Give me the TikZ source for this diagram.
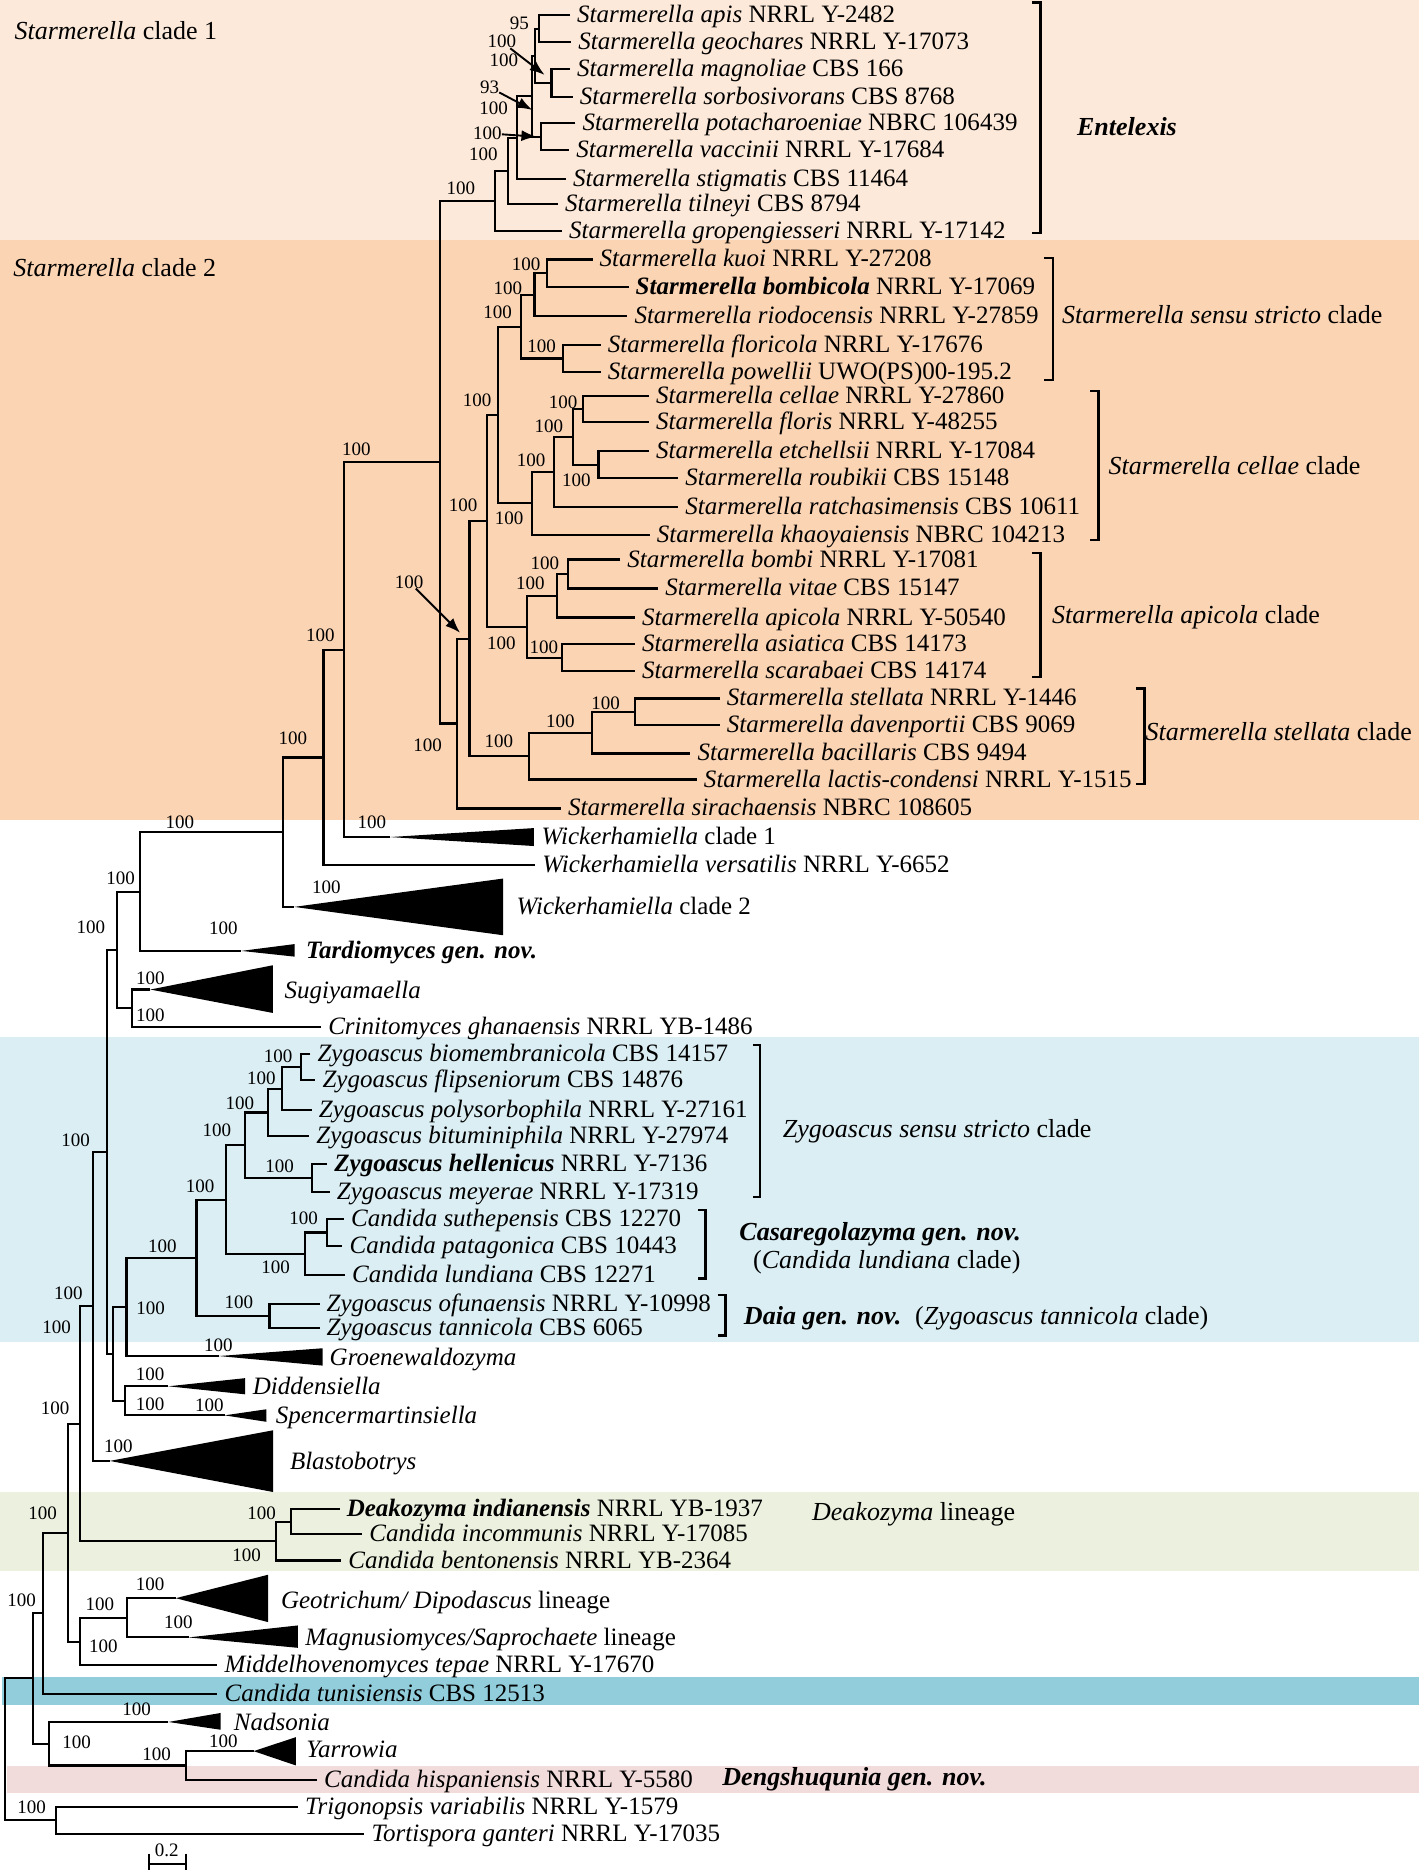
\documentclass[tikz,border=0pt]{standalone}
\usepackage{fontspec}
\setmainfont{Liberation Serif}
\usetikzlibrary{arrows.meta}
\definecolor{cladeone}{HTML}{FDE9D9}
\definecolor{cladetwo}{HTML}{FBD4B4}
\definecolor{zygoblue}{HTML}{DBEEF3}
\definecolor{deakogreen}{HTML}{EBF1DE}
\definecolor{tunisblue}{HTML}{92CDDC}
\definecolor{dengpink}{HTML}{F2DBDB}
\begin{document}
\begin{tikzpicture}[x=1.1955pt,y=-1.1955pt,
  branch/.style={line width=2.1pt},
  taxon/.style={anchor=west,inner xsep=7pt,inner ysep=0pt,text height=15pt,text depth=0pt,font=\fontsize{25}{30}\selectfont},
  boot/.style={inner sep=0pt,font=\fontsize{19}{22}\selectfont},
  cladetext/.style={anchor=west,inner sep=0pt,text height=17pt,text depth=0pt,font=\fontsize{26}{31}\selectfont},
  clademark/.style={line width=2.4pt},
  pointer/.style={-{Latex[length=15pt,width=11pt]},line width=1.9pt}]
\useasboundingbox (0,0) rectangle (1187,1568);
\fill[cladeone] (0,0) rectangle (1187,201);
\fill[cladetwo] (0,201) rectangle (1187,686);
\fill[zygoblue] (0,867) rectangle (1187,1122);
\fill[deakogreen] (0,1248) rectangle (1187,1314);
\fill[tunisblue] (2,1402.5) rectangle (1187,1425.5);
\fill[dengpink] (5.5,1477) rectangle (1187,1499);
\node[cladetext] (clone) at (12,26) {\textit{Starmerella} clade 1};
\node[cladetext] (cltwo) at (11,224) {\textit{Starmerella} clade 2};

\node[taxon] (apis) at (476.7,12.8) {\textit{Starmerella apis} NRRL Y-2482};
\node[taxon] (geoch) at (477.7,35) {\textit{Starmerella geochares} NRRL Y-17073};
\node[taxon] (magnol) at (476.7,58) {\textit{Starmerella magnoliae} CBS 166};
\node[taxon] (sorbos) at (479,81) {\textit{Starmerella sorbosivorans} CBS 8768};
\node[taxon] (potach) at (481.1,103) {\textit{Starmerella potacharoeniae} NBRC 106439};
\node[taxon] (vaccin) at (476,125.5) {\textit{Starmerella vaccinii} NRRL Y-17684};
\node[taxon] (stigma) at (473.3,149.7) {\textit{Starmerella stigmatis} CBS 11464};
\node[taxon] (tilney) at (466.5,170.5) {\textit{Starmerella tilneyi} CBS 8794};
\node[taxon] (gropen) at (469.9,193) {\textit{Starmerella gropengiesseri} NRRL Y-17142};
\node[taxon] (kuoi) at (495.5,217) {\textit{Starmerella kuoi} NRRL Y-27208};
\node[taxon] (bombic) at (525.6,240) {\textbf{\textit{Starmerella bombicola}} NRRL Y-17069};
\node[taxon] (riodoc) at (524.6,264.5) {\textit{Starmerella riodocensis} NRRL Y-27859};
\node[taxon] (floric) at (502.4,288.3) {\textit{Starmerella floricola} NRRL Y-17676};
\node[taxon] (powell) at (502.4,311.3) {\textit{Starmerella powellii} UWO(PS)00-195.2};
\node[taxon] (cellae) at (542.6,331.2) {\textit{Starmerella cellae} NRRL Y-27860};
\node[taxon] (floris) at (542.6,352.7) {\textit{Starmerella floris} NRRL Y-48255};
\node[taxon] (etchel) at (542.6,377) {\textit{Starmerella etchellsii} NRRL Y-17084};
\node[taxon] (roubik) at (567.2,400) {\textit{Starmerella roubikii} CBS 15148};
\node[taxon] (ratcha) at (567.2,423.8) {\textit{Starmerella ratchasimensis} CBS 10611};
\node[taxon] (khaoya) at (543.3,447.5) {\textit{Starmerella khaoyaiensis} NBRC 104213};
\node[taxon] (bombi) at (518.7,467.9) {\textit{Starmerella bombi} NRRL Y-17081};
\node[taxon] (vitae) at (550.3,492.1) {\textit{Starmerella vitae} CBS 15147};
\node[taxon] (apicol) at (530.9,516.4) {\textit{Starmerella apicola} NRRL Y-50540};
\node[taxon] (asiat) at (530.9,538.7) {\textit{Starmerella asiatica} CBS 14173};
\node[taxon] (scarab) at (530.9,561) {\textit{Starmerella scarabaei} CBS 14174};
\node[taxon] (stell) at (601.8,584.1) {\textit{Starmerella stellata} NRRL Y-1446};
\node[taxon] (davenp) at (601.8,606.4) {\textit{Starmerella davenportii} CBS 9069};
\node[taxon] (bacill) at (577.4,630.1) {\textit{Starmerella bacillaris} CBS 9494};
\node[taxon] (lactis) at (582.7,651.9) {\textit{Starmerella lactis-condensi} NRRL Y-1515};
\node[taxon] (sirach) at (469.1,676.1) {\textit{Starmerella sirachaensis} NBRC 108605};
\node[taxon] (wickA) at (447,700) {\textit{Wickerhamiella} clade 1};
\node[taxon] (versat) at (447.6,723.6) {\textit{Wickerhamiella versatilis} NRRL Y-6652};
\node[taxon] (wickB) at (426,758.4) {\textit{Wickerhamiella} clade 2};
\node[taxon] (tardio) at (250,795.5) {\textbf{\textit{Tardiomyces gen. nov.}}};
\node[taxon] (sugiya) at (232,828.5) {\textit{Sugiyamaella}};
\node[taxon] (crinit) at (268.5,858.8) {\textit{Crinitomyces ghanaensis} NRRL YB-1486};
\node[taxon] (zbiom) at (259.5,881.1) {\textit{Zygoascus biomembranicola} CBS 14157};
\node[taxon] (zflip) at (263.7,903.4) {\textit{Zygoascus flipseniorum} CBS 14876};
\node[taxon] (zpoly) at (260.7,928.5) {\textit{Zygoascus polysorbophila} NRRL Y-27161};
\node[taxon] (zbitum) at (258.6,950.2) {\textit{Zygoascus bituminiphila} NRRL Y-27974};
\node[taxon] (zhell) at (273.6,973.7) {\textbf{\textit{Zygoascus hellenicus}} NRRL Y-7136};
\node[taxon] (zmeyer) at (275.7,996.8) {\textit{Zygoascus meyerae} NRRL Y-17319};
\node[taxon] (csuth) at (287.6,1019.1) {\textit{Candida suthepensis} CBS 12270};
\node[taxon] (cpatag) at (286.4,1042.2) {\textit{Candida patagonica} CBS 10443};
\node[taxon] (clund) at (288.5,1066.5) {\textit{Candida lundiana} CBS 12271};
\node[taxon] (zofun) at (267.2,1090.8) {\textit{Zygoascus ofunaensis} NRRL Y-10998};
\node[taxon] (ztann) at (267.2,1110.3) {\textit{Zygoascus tannicola} CBS 6065};
\node[taxon] (groen) at (269.7,1136) {\textit{Groenewaldozyma}};
\node[taxon] (didd) at (205.5,1160) {\textit{Diddensiella}};
\node[taxon] (spenc) at (224.6,1184) {\textit{Spencermartinsiella}};
\node[taxon] (blasto) at (236.5,1223) {\textit{Blastobotrys}};
\node[taxon] (deako) at (284,1262) {\textbf{\textit{Deakozyma indianensis}} NRRL YB-1937};
\node[taxon] (cincom) at (302.9,1283) {\textit{Candida incommunis} NRRL Y-17085};
\node[taxon] (cbent) at (285.4,1305) {\textit{Candida bentonensis} NRRL YB-2364};
\node[taxon] (geotr) at (229,1338.5) {\textit{Geotrichum/ Dipodascus} lineage};
\node[taxon] (magnus) at (249.3,1369.6) {\textit{Magnusiomyces/Saprochaete} lineage};
\node[taxon] (middel) at (181.8,1392.7) {\textit{Middelhovenomyces tepae} NRRL Y-17670};
\node[taxon] (ctunis) at (181.8,1416.4) {\textit{Candida tunisiensis} CBS 12513};
\node[taxon] (nadson) at (189.6,1441) {\textit{Nadsonia}};
\node[taxon] (yarrow) at (250.2,1463.5) {\textit{Yarrowia}};
\node[taxon] (chisp) at (265,1488.4) {\textit{Candida hispaniensis} NRRL Y-5580};
\node[taxon] (trigon) at (249.2,1511.2) {\textit{Trigonopsis variabilis} NRRL Y-1579};
\node[taxon] (tortis) at (304.7,1533.5) {\textit{Tortispora ganteri} NRRL Y-17035};

\coordinate (nA) at (450.4,23.9);
\coordinate (nB) at (461.2,69.5);
\coordinate (nC) at (447.5,46.7);
\coordinate (nD) at (452.7,114.2);
\coordinate (nE) at (445,80.5);
\coordinate (nF) at (432.2,115.1);
\coordinate (nG) at (424.7,142.8);
\coordinate (nH) at (413.8,167.9);
\coordinate (nKb) at (457.8,228.5);
\coordinate (nKbr) at (447,246.5);
\coordinate (nFp) at (470.9,299.8);
\coordinate (nSs) at (436,273.2);
\coordinate (nCf) at (487.2,342);
\coordinate (nEr) at (500.5,388.5);
\coordinate (nCfer) at (479.3,365.2);
\coordinate (nCferr) at (463.3,394.5);
\coordinate (nCel) at (445.2,421);
\coordinate (nX) at (416.2,347.1);
\coordinate (nBv) at (475.1,480);
\coordinate (nBva) at (465.9,498.2);
\coordinate (nAs) at (470,549.9);
\coordinate (nApi) at (440.7,524);
\coordinate (nP) at (407,435.6);
\coordinate (nSd) at (530.7,595.3);
\coordinate (nSdb) at (495,612.7);
\coordinate (nStel) at (442.7,632.3);
\coordinate (nQ) at (392.6,534);
\coordinate (nR) at (381.9,605);
\coordinate (nS) at (367.6,386.5);
\coordinate (nT) at (287.8,543.3);
\coordinate (nU) at (270.5,633.5);
\coordinate (nV) at (236.5,696);
\coordinate (nW) at (117.4,745.6);
\coordinate (nY) at (110.1,843.2);
\coordinate (nZ) at (98.2,794.4);
\coordinate (nZbf) at (251.8,892.3);
\coordinate (nZbfp) at (236,910.4);
\coordinate (nZig) at (224,930.3);
\coordinate (nHm) at (261.2,985.3);
\coordinate (nGG) at (204.9,957.8);
\coordinate (nSp) at (273.2,1030.7);
\coordinate (nCas) at (255.2,1048.6);
\coordinate (nFF) at (189.1,1003.2);
\coordinate (nDaia) at (225.4,1100.6);
\coordinate (nEE) at (164.3,1051.9);
\coordinate (nCC) at (105.8,1093);
\coordinate (nDD) at (104.5,1171.5);
\coordinate (nBB) at (94.8,1132.3);
\coordinate (nAA) at (89.8,963.3);
\coordinate (nHH) at (78.1,1092.5);
\coordinate (nQQ) at (243,1272.5);
\coordinate (nDeak) at (230.5,1288.8);
\coordinate (nII) at (66.9,1190.6);
\coordinate (nRR) at (105.9,1352.9);
\coordinate (nLL) at (66.9,1372.8);
\coordinate (nJJ) at (57.2,1281.7);
\coordinate (nNN) at (36.2,1349);
\coordinate (nPP) at (155.8,1476.4);
\coordinate (nOO) at (40.8,1458.2);
\coordinate (nKK) at (27.9,1403.6);
\coordinate (nTT) at (47,1522.3);
\coordinate (nRoot) at (4.2,1463);

\coordinate (wickAap) at (326,700);
\coordinate (wickBap) at (246,758.4);
\coordinate (tardap) at (201.8,795.2);
\coordinate (sugap) at (125.7,827.5);
\coordinate (groeap) at (183,1134);
\coordinate (diddap) at (140.8,1159.3);
\coordinate (spenap) at (187.8,1183.6);
\coordinate (blasap) at (91.8,1221.7);
\coordinate (geoap) at (147,1336.5);
\coordinate (magap) at (157.7,1369.3);
\coordinate (nadap) at (140.8,1440);
\coordinate (yarap) at (212.1,1464.4);

\fill (wickAap) -- (446.5,692.5) -- (446.5,707.5) -- cycle;
\fill (wickBap) -- (420.7,734.7) -- (420.7,782.1) -- cycle;
\fill (tardap) -- (246.4,789.5) -- (246.4,800) -- cycle;
\fill (sugap) -- (228.2,807.2) -- (228.2,847.1) -- cycle;
\fill (groeap) -- (269.7,1127.5) -- (269.7,1142) -- cycle;
\fill (diddap) -- (204.9,1152.5) -- (204.9,1166) -- cycle;
\fill (spenap) -- (222.8,1178.5) -- (222.8,1189) -- cycle;
\fill (blasap) -- (228.3,1196.1) -- (228.3,1247.7) -- cycle;
\fill (geoap) -- (224.2,1316.9) -- (224.2,1356.5) -- cycle;
\fill (magap) -- (249,1359.3) -- (249,1378) -- cycle;
\fill (nadap) -- (184.4,1432.5) -- (184.4,1446.5) -- cycle;
\fill (yarap) -- (247.5,1452.7) -- (247.5,1476.4) -- cycle;

\draw[branch] (apis) -| (nA) |- (geoch);
\draw[branch] (magnol) -| (nB) |- (sorbos);
\draw[branch] (nA) -| (nC) |- (nB);
\draw[branch] (potach) -| (nD) |- (vaccin);
\draw[branch] (nC) -| (nE) |- (nD);
\draw[branch] (nE) -| (nF) |- (stigma);
\draw[branch] (nF) -| (nG) |- (tilney);
\draw[branch] (nG) -| (nH) |- (gropen);
\draw[branch] (kuoi) -| (nKb) |- (bombic);
\draw[branch] (nKb) -| (nKbr) |- (riodoc);
\draw[branch] (floric) -| (nFp) |- (powell);
\draw[branch] (nKbr) -| (nSs) |- (nFp);
\draw[branch] (cellae) -| (nCf) |- (floris);
\draw[branch] (etchel) -| (nEr) |- (roubik);
\draw[branch] (nCf) -| (nCfer) |- (nEr);
\draw[branch] (nCfer) -| (nCferr) |- (ratcha);
\draw[branch] (nCferr) -| (nCel) |- (khaoya);
\draw[branch] (nSs) -| (nX) |- (nCel);
\draw[branch] (bombi) -| (nBv) |- (vitae);
\draw[branch] (nBv) -| (nBva) |- (apicol);
\draw[branch] (asiat) -| (nAs) |- (scarab);
\draw[branch] (nBva) -| (nApi) |- (nAs);
\draw[branch] (nX) -| (nP) |- (nApi);
\draw[branch] (stell) -| (nSd) |- (davenp);
\draw[branch] (nSd) -| (nSdb) |- (bacill);
\draw[branch] (nSdb) -| (nStel) |- (lactis);
\draw[branch] (nP) -| (nQ) |- (nStel);
\draw[branch] (nQ) -| (nR) |- (sirach);
\draw[branch] (nH) -| (nS) |- (nR);
\draw[branch] (nS) -| (nT) |- (wickAap);
\draw[branch] (nT) -| (nU) |- (versat);
\draw[branch] (nU) -| (nV) |- (wickBap);
\draw[branch] (nV) -| (nW) |- (tardap);
\draw[branch] (sugap) -| (nY) |- (crinit);
\draw[branch] (nW) -| (nZ) |- (nY);
\draw[branch] (zbiom) -| (nZbf) |- (zflip);
\draw[branch] (nZbf) -| (nZbfp) |- (zpoly);
\draw[branch] (nZbfp) -| (nZig) |- (zbitum);
\draw[branch] (zhell) -| (nHm) |- (zmeyer);
\draw[branch] (nZig) -| (nGG) |- (nHm);
\draw[branch] (csuth) -| (nSp) |- (cpatag);
\draw[branch] (nSp) -| (nCas) |- (clund);
\draw[branch] (nGG) -| (nFF) |- (nCas);
\draw[branch] (zofun) -| (nDaia) |- (ztann);
\draw[branch] (nFF) -| (nEE) |- (nDaia);
\draw[branch] (nEE) -| (nCC) |- (groeap);
\draw[branch] (diddap) -| (nDD) |- (spenap);
\draw[branch] (nCC) -| (nBB) |- (nDD);
\draw[branch] (nZ) -| (nAA) |- (nBB);
\draw[branch] (nAA) -| (nHH) |- (blasap);
\draw[branch] (deako) -| (nQQ) |- (cincom);
\draw[branch] (nQQ) -| (nDeak) |- (cbent);
\draw[branch] (nHH) -| (nII) |- (nDeak);
\draw[branch] (geoap) -| (nRR) |- (magap);
\draw[branch] (nRR) -| (nLL) |- (middel);
\draw[branch] (nII) -| (nJJ) |- (nLL);
\draw[branch] (nJJ) -| (nNN) |- (ctunis);
\draw[branch] (yarap) -| (nPP) |- (chisp);
\draw[branch] (nadap) -| (nOO) |- (nPP);
\draw[branch] (nNN) -| (nKK) |- (nOO);
\draw[branch] (trigon) -| (nTT) |- (tortis);
\draw[branch] (nKK) -| (nRoot) |- (nTT);

\node[boot] (bA) at (434.3,19.5) {95};
\node[boot] (bB) at (419.6,34.9) {100};
\node[boot] (bC) at (421.3,50.8) {100};
\node[boot] (bE) at (409.4,73) {93};
\node[boot] (bF) at (412.8,90.6) {100};
\node[boot] (bD) at (407.6,111.5) {100};
\node[boot] (bG) at (404.3,128.8) {100};
\node[boot] (bH) at (385.5,157.5) {100};
\node[boot] (bKb) at (440,220.8) {100};
\node[boot] (bKbr) at (424.8,241.2) {100};
\node[boot] (bSs) at (416.2,261.5) {100};
\node[boot] (bFp) at (453,289.4) {100};
\node[boot] (bX) at (399,334.6) {100};
\node[boot] (bCf) at (470.9,336) {100};
\node[boot] (bCfer) at (458.9,356.3) {100};
\node[boot] (bCferr) at (444.2,385.3) {100};
\node[boot] (bEr) at (482,402) {100};
\node[boot] (bCel) at (425.8,433.6) {100};
\node[boot] (bP) at (387.2,422.4) {100};
\node[boot] (bBv) at (455.7,471.2) {100};
\node[boot] (bBva) at (443.6,487.4) {100};
\node[boot] (bApi) at (419.2,537.6) {100};
\node[boot] (bAs) at (454.9,541) {100};
\node[boot] (bQ) at (342.2,486.6) {100};
\node[boot] (bSd) at (506.4,587.8) {100};
\node[boot] (bSdb) at (468.7,602.8) {100};
\node[boot] (bStel) at (417.2,619.8) {100};
\node[boot] (bR) at (357.6,623.2) {100};
\node[boot] (bS) at (298,376) {100};
\node[boot] (bT) at (268,531) {100};
\node[boot] (bU) at (245,617) {100};
\node[boot] (bWickA) at (310.9,687.3) {100};
\node[boot] (bWickB) at (272.9,742.2) {100};
\node[boot] (bV) at (150.5,687.3) {100};
\node[boot] (bW) at (100.9,734.7) {100};
\node[boot] (bTardio) at (186.9,776.5) {100};
\node[boot] (bZ) at (76,775.1) {100};
\node[boot] (bSugiya) at (125.7,818.3) {100};
\node[boot] (bCrinit) at (125.7,849) {100};
\node[boot] (bAA) at (63.2,953.6) {100};
\node[boot] (bZbf) at (232.6,883.3) {100};
\node[boot] (bZbfp) at (218.5,902) {100};
\node[boot] (bZig) at (200.6,922.4) {100};
\node[boot] (bGG) at (181.4,945.2) {100};
\node[boot] (bHm) at (233.9,975.3) {100};
\node[boot] (bFF) at (167.3,992) {100};
\node[boot] (bSp) at (254,1019.1) {100};
\node[boot] (bEE) at (135.7,1042.3) {100};
\node[boot] (bCas) at (230.5,1060.1) {100};
\node[boot] (bDaia) at (199.7,1088.8) {100};
\node[boot] (bCC) at (125.9,1094.4) {100};
\node[boot] (bGroen) at (182.6,1125) {100};
\node[boot] (bHH) at (57.2,1081.8) {100};
\node[boot] (bBB) at (47.4,1109.7) {100};
\node[boot] (bDidd) at (125.5,1149.3) {100};
\node[boot] (bDD) at (125.5,1174.4) {100};
\node[boot] (bSpenc) at (175.1,1175.2) {100};
\node[boot] (bII) at (46,1178) {100};
\node[boot] (bBlasto) at (99,1209.5) {100};
\node[boot] (bJJ) at (35.7,1265.9) {100};
\node[boot] (bQQ) at (218.8,1265.3) {100};
\node[boot] (bDeak) at (206.3,1300.7) {100};
\node[boot] (bGeo) at (125.5,1325) {100};
\node[boot] (bNN) at (18.1,1338.4) {100};
\node[boot] (bRR) at (83.6,1341.7) {100};
\node[boot] (bMagnus) at (149.2,1356.5) {100};
\node[boot] (bLL) at (86.4,1376.6) {100};
\node[boot] (bNads) at (114.3,1429) {100};
\node[boot] (bOO) at (64.1,1456.8) {100};
\node[boot] (bYarr) at (186.8,1456) {100};
\node[boot] (bPP) at (131,1467.2) {100};
\node[boot] (bTT) at (26.5,1511.2) {100};

\coordinate (arrB) at (455.5,62.7);
\coordinate (arrE) at (445.2,92);
\coordinate (arrD) at (448.6,114.3);
\coordinate (arrQ) at (384.8,529.2);
\draw[pointer] (bB) -- (arrB);
\draw[pointer] (bE) -- (arrE);
\draw[pointer] (bD) -- (arrD);
\draw[pointer] (bQ) -- (arrQ);

\draw[clademark] (863,2) -- (870,2) -- (870,195) -- (863,195);
\draw[clademark] (872.7,216) -- (880.5,216) -- (880.5,318) -- (872.7,318);
\draw[clademark] (911.8,326.8) -- (918.7,326.8) -- (918.7,451.7) -- (911.8,451.7);
\draw[clademark] (863,462.7) -- (870,462.7) -- (870,566) -- (863,566);
\draw[clademark] (950,575.6) -- (957,575.6) -- (957,655.4) -- (950,655.4);
\draw[clademark] (629.7,874.1) -- (635.4,874.1) -- (635.4,1001) -- (629.7,1001);
\draw[clademark] (584,1012.1) -- (590.1,1012.1) -- (590.1,1069.3) -- (584,1069.3);
\draw[clademark] (600.1,1083.2) -- (606.6,1083.2) -- (606.6,1116.7) -- (600.1,1116.7);

\node[cladetext] (entel) at (900.6,106) {\textbf{\textit{Entelexis}}};
\node[cladetext] (ssclade) at (888,263.5) {\textit{Starmerella sensu stricto} clade};
\node[cladetext] (celclade) at (927,389.7) {\textit{Starmerella cellae} clade};
\node[cladetext] (apiclade) at (879.7,514.5) {\textit{Starmerella apicola} clade};
\node[cladetext] (stelclade) at (957.8,612) {\textit{Starmerella stellata} clade};
\node[cladetext] (zygoclade) at (654.6,943.8) {\textit{Zygoascus sensu stricto} clade};
\node[cladetext] (casgen) at (618.2,1030.3) {\textbf{\textit{Casaregolazyma gen. nov.}}};
\node[cladetext] (casold) at (629.7,1054) {(\textit{Candida lundiana} clade)};
\node[cladetext] (daiagen) at (622,1100.8) {\textbf{\textit{Daia gen. nov.}}};
\node[cladetext] (daiaold) at (765.1,1100.8) {(\textit{Zygoascus tannicola} clade)};
\node[cladetext] (deaklin) at (679,1264.5) {\textit{Deakozyma} lineage};
\node[cladetext] (denggen) at (604,1486) {\textbf{\textit{Dengshuqunia gen. nov.}}};

\coordinate (barL) at (124.6,1558.6);
\coordinate (barR) at (155.3,1558.6);
\draw[branch] (barL) -- (barR);
\draw[branch] (124.6,1550.2) -- (124.6,1564.2);
\draw[branch] (155.3,1550.2) -- (155.3,1564.2);
\node[boot] (barlab) at (139.4,1547.5) {0.2};
\end{tikzpicture}
\end{document}
